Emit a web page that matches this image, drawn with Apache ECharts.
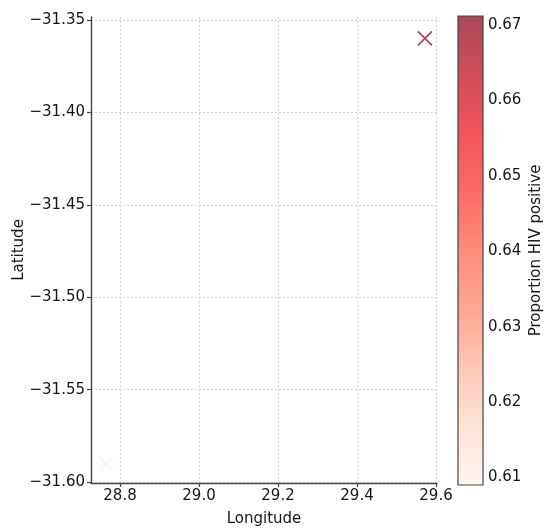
<!DOCTYPE html>
<html>
<head>
<meta charset="utf-8">
<script src="https://cdn.jsdelivr.net/npm/echarts@6/dist/echarts.min.js"></script>
<style>
  html, body { margin: 0; padding: 0; background: #fff; }
  #chart { width: 550px; height: 531px; }
</style>
</head>
<body>
<div id="chart"></div>
<script>
// ---- data ----
const longitudes = [29.572, 28.764];
const latitudes = [-31.360, -31.590];
const proportions = [0.6712, 0.609];

const xTicks = [28.8, 29.0, 29.2, 29.4, 29.6];
const yTicks = [-31.60, -31.55, -31.50, -31.45, -31.40, -31.35];
const cbTicks = [0.61, 0.62, 0.63, 0.64, 0.65, 0.66, 0.67];

// colormap (low -> high)
const reds = ['#fff5f0', '#fee3d8', '#fdc8b5', '#fda792', '#fd8c7a', '#fb6b65', '#f2555a', '#d24c5a', '#a84858'];

const cbMin = Math.min(...proportions);
const cbMax = Math.max(...proportions);

const points = longitudes.map((x, i) => [x, latitudes[i], proportions[i]]);

const font = 'DejaVu Sans';
const fs = 15;
const axisColor = '#444';
const textColor = '#151515';

const chart = echarts.init(document.getElementById('chart'), null, { renderer: 'canvas' });

const gradStops = reds.map((c, i) => ({ offset: 1 - i / (reds.length - 1), color: c }));
const gridLine = { show: true, lineStyle: { color: '#d2d2d2', width: 1, type: [2, 2] } };

chart.setOption({
  animation: false,
  backgroundColor: '#fff',
  grid: [
    { left: 91, top: 17, width: 346, height: 466, containLabel: false, outerBoundsMode: 'none' },
    { left: 458, top: 16, width: 25, height: 469, containLabel: false, outerBoundsMode: 'none' }
  ],
  visualMap: {
    type: 'continuous',
    show: false,
    min: cbMin,
    max: cbMax,
    dimension: 2,
    seriesIndex: 0,
    inRange: { color: reds }
  },
  xAxis: [
    {
      gridIndex: 0,
      type: 'value',
      min: 28.7266,
      max: 29.6025,
      name: 'Longitude',
      nameLocation: 'middle',
      nameGap: 29,
      nameMoveOverlap: false,
      nameTextStyle: { fontFamily: font, fontSize: fs, color: textColor },
      axisLine: { show: true, onZero: false, lineStyle: { color: axisColor, width: 1.4 } },
      axisTick: { show: true, length: 4, customValues: xTicks, lineStyle: { color: axisColor, width: 1.2 } },
      axisLabel: {
        customValues: xTicks, margin: 6,
        fontFamily: font, fontSize: fs, color: textColor,
        formatter: v => Number(v).toFixed(1)
      },
      splitLine: gridLine
    },
    {
      gridIndex: 1,
      type: 'value',
      min: 0,
      max: 1,
      show: false
    }
  ],
  yAxis: [
    {
      gridIndex: 0,
      type: 'value',
      min: -31.6005,
      max: -31.3484,
      name: 'Latitude',
      nameLocation: 'middle',
      nameRotate: 90,
      nameGap: 64,
      nameMoveOverlap: false,
      nameTextStyle: { fontFamily: font, fontSize: fs, color: textColor },
      axisLine: { show: true, onZero: false, lineStyle: { color: axisColor, width: 1.4 } },
      axisTick: { show: true, length: 4, customValues: yTicks, lineStyle: { color: axisColor, width: 1.2 } },
      axisLabel: {
        customValues: yTicks, margin: 6,
        fontFamily: font, fontSize: fs, color: textColor,
        formatter: v => (v < 0 ? '\u2212' : '') + Math.abs(v).toFixed(2)
      },
      splitLine: gridLine
    },
    {
      gridIndex: 1,
      type: 'value',
      position: 'right',
      min: cbMin,
      max: cbMax,
      name: 'Proportion HIV positive',
      nameLocation: 'middle',
      nameRotate: 90,
      nameGap: 46,
      nameTextStyle: { fontFamily: font, fontSize: fs, color: textColor },
      axisLine: { show: false },
      axisTick: { show: true, length: 4, customValues: cbTicks, lineStyle: { color: axisColor, width: 1.2 } },
      axisLabel: {
        customValues: cbTicks, margin: 5,
        fontFamily: font, fontSize: fs, color: textColor,
        formatter: v => Number(v).toFixed(2)
      },
      splitLine: { show: false }
    }
  ],
  series: [
    {
      type: 'custom',
      xAxisIndex: 0,
      yAxisIndex: 0,
      data: points,
      encode: { x: 0, y: 1 },
      clip: true,
      renderItem: function (params, api) {
        const p = api.coord([api.value(0), api.value(1)]);
        const c = api.visual('color');
        const h = 7;
        return {
          type: 'group',
          children: [
            { type: 'line', shape: { x1: p[0] - h, y1: p[1] - h, x2: p[0] + h, y2: p[1] + h }, style: { stroke: c, lineWidth: 1.8 } },
            { type: 'line', shape: { x1: p[0] - h, y1: p[1] + h, x2: p[0] + h, y2: p[1] - h }, style: { stroke: c, lineWidth: 1.8 } }
          ]
        };
      }
    },
    {
      type: 'custom',
      xAxisIndex: 1,
      yAxisIndex: 1,
      data: [[0, cbMin, cbMax]],
      encode: { x: 0, y: [1, 2] },
      renderItem: function (params, api) {
        const top = api.coord([0, api.value(2)]);
        const bot = api.coord([1, api.value(1)]);
        return {
          type: 'rect',
          shape: { x: top[0], y: top[1], width: bot[0] - top[0], height: bot[1] - top[1] },
          style: {
            fill: new echarts.graphic.LinearGradient(0, 0, 0, 1, gradStops),
            stroke: axisColor,
            lineWidth: 1.2
          }
        };
      }
    }
  ]
});
</script>
</body>
</html>
